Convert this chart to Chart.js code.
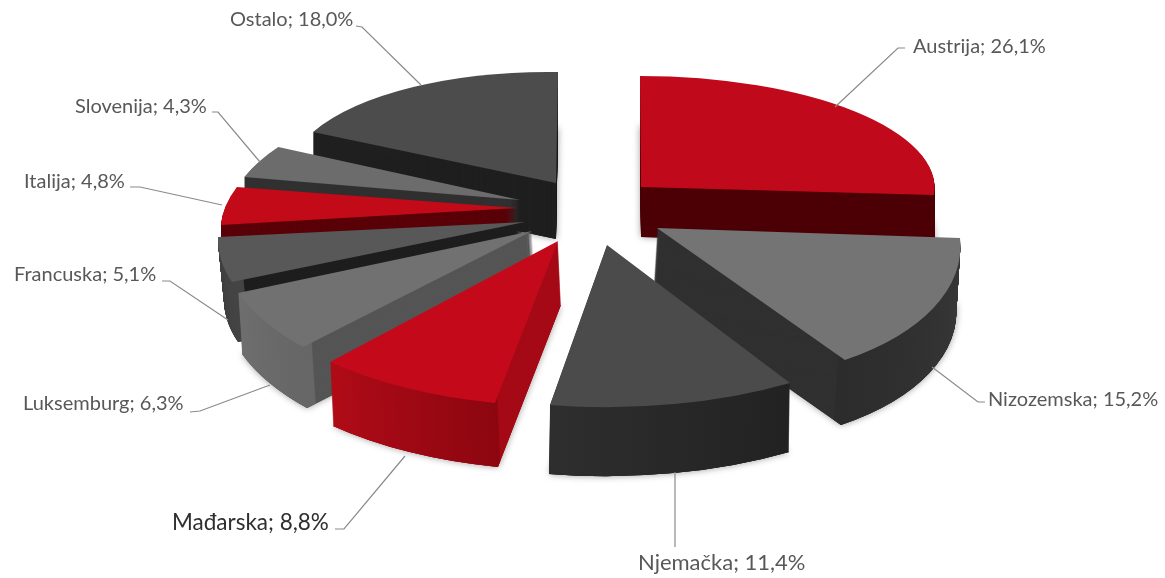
<!DOCTYPE html>
<html lang="hr">
<head>
    <meta charset="UTF-8">
    <title>Izvoz po zemljama</title>
    <script src="https://cdn.jsdelivr.net/npm/chart.js"></script>
    <style>
        html, body { margin: 0; padding: 0; background: #ffffff; }
        canvas { display: block; }
    </style>
</head>
<body>
    <canvas id="pie" width="1165" height="578"></canvas>

    <script>
        const categories = ['Austrija', 'Nizozemska', 'Njemačka', 'Mađarska', 'Luksemburg', 'Francuska', 'Italija', 'Slovenija', 'Ostalo'];
        const shares = [26.1, 15.2, 11.4, 8.8, 6.3, 5.1, 4.8, 4.3, 18.0];

        // colours per slice: top face, cut side, outer wall (end angle and start angle)
        const topColors = ['#c00a1b', '#747474', '#4b4b4b', '#c40a1a', '#717171', '#585858', '#c20a18', '#6c6c6c', '#4c4c4c'];
        const sideColors = ['#4c0006', '#303030', '#262626', '#a50a16', '#555555', '#1e1e1e', '#5a0008', '#303030', '#1f1f1f'];
        const wallFrom = ['#4c0006', '#2c2c2c', '#2e2e2e', '#b00b17', '#6e6e6e', '#3b3b3b', '#5a0008', '#303030', '#1f1f1f'];
        const wallTo = ['#4c0006', '#383838', '#222222', '#8c0610', '#666666', '#444444', '#5a0008', '#303030', '#1f1f1f'];

        // fake 3D view of each slice: apex on the page, 2x2 squash of the unit circle, wall height and lean
        const apexX = [641, 657, 607, 558, 532, 525, 517, 520, 556];
        const apexY = [187, 228, 245, 241, 231, 222, 208, 200, 183];
        const views = [
            [293.6, 0.3, 1, 111],
            [301.2, -0.7, 36.7, 154.9],
            [348.9, -1.1, 1.9, 162.2],
            [337.8, 4.3, -6.1, 165.1],
            [312.2, 10.9, -30, 164.2],
            [303.6, 4.2, -45.6, 146],
            [292.3, -0.4, -47.6, 126.6],
            [286.9, 3.2, -42, 117.6],
            [269.5, 4.1, -2, 111]
        ];
        const depths = [50, 65, 69, 64, 61, 60, 50, 50, 56];
        const leans = [0, -4, -1, 3, 4, 6, 0, 0, 0];
        const hasShadow = [true, true, true, true, true, false, false, false, true];
        const paintOrder = [0, 8, 7, 6, 5, 4, 1, 2, 3];

        // label text position (left, middle), size and leader line
        const labelX = [913, 988, 638, 172, 23, 14, 24, 75, 230];
        const labelY = [47, 400, 563, 523, 404, 275, 182, 107, 20];
        const labelSizes = [20, 20, 22, 22.5, 20, 20, 20, 20, 20];
        const leaders = [
            [[905, 48], [898, 48], [835, 107]],
            [[985, 402], [978, 402], [932, 367]],
            [[675, 547], [675, 472]],
            [[335, 529], [344, 529], [405, 456]],
            [[190, 412], [200, 411], [270, 385]],
            [[162, 281], [170, 281], [228, 320]],
            [[130, 187], [140, 187], [222, 205]],
            [[212, 112], [218, 112], [260, 162]],
            [[356, 26], [362, 27], [421, 85]]
        ];

        function drawLayer(ctx, arc, i, d, color, inner) {
            const m = views[i];
            const R = arc.outerRadius;
            const saved = arc.options;
            const savedInner = arc.innerRadius;
            arc.options = Object.assign({}, saved, { backgroundColor: color });
            arc.innerRadius = inner;
            ctx.save();
            ctx.translate(apexX[i] + leans[i] * d / depths[i], apexY[i] + d);
            ctx.transform(m[0] / R, m[1] / R, m[2] / R, m[3] / R, 0, 0);
            ctx.translate(-arc.x, -arc.y);
            arc.draw(ctx);
            ctx.restore();
            arc.options = saved;
            arc.innerRadius = savedInner;
        }

        const slices3d = {
            id: 'slices3d',
            beforeDatasetsDraw(chart) {
                const ctx = chart.ctx;
                const arcs = chart.getDatasetMeta(0).data;
                paintOrder.forEach(i => {
                    const arc = arcs[i];
                    const R = arc.outerRadius;
                    // gradient runs between the two arc ends, in the arc's own space
                    const grad = ctx.createLinearGradient(
                        arc.x + Math.cos(arc.endAngle) * R, arc.y + Math.sin(arc.endAngle) * R,
                        arc.x + Math.cos(arc.startAngle) * R, arc.y + Math.sin(arc.startAngle) * R);
                    grad.addColorStop(0, wallFrom[i]);
                    grad.addColorStop(1, wallTo[i]);

                    if (hasShadow[i]) {
                        ctx.save();
                        ctx.shadowColor = 'rgba(0,0,0,0.4)';
                        ctx.shadowBlur = 7;
                        drawLayer(ctx, arc, i, depths[i], sideColors[i], 0);
                        ctx.restore();
                    }
                    for (let d = depths[i]; d >= 1; d--) {
                        drawLayer(ctx, arc, i, d, sideColors[i], 0);
                    }
                    for (let d = depths[i]; d >= 1; d--) {
                        drawLayer(ctx, arc, i, d, grad, R * 0.96);
                    }
                    drawLayer(ctx, arc, i, 0, topColors[i], 0);
                });
                return false;
            }
        };

        const sliceLabels = {
            id: 'sliceLabels',
            afterDraw(chart) {
                const ctx = chart.ctx;
                ctx.save();
                ctx.strokeStyle = '#8a8a8a';
                ctx.lineWidth = 1.2;
                leaders.forEach(pts => {
                    ctx.beginPath();
                    pts.forEach((p, k) => k ? ctx.lineTo(p[0], p[1]) : ctx.moveTo(p[0], p[1]));
                    ctx.stroke();
                });
                ctx.textBaseline = 'middle';
                categories.forEach((name, i) => {
                    ctx.font = labelSizes[i] + 'px Lato';
                    ctx.fillStyle = name === 'Mađarska' ? '#2e2e2e' : '#585858';
                    const text = name + '; ' + shares[i].toFixed(1).replace('.', ',') + '%';
                    ctx.fillText(text, labelX[i], labelY[i]);
                });
                ctx.restore();
            }
        };

        new Chart(document.getElementById('pie').getContext('2d'), {
            type: 'pie',
            data: {
                labels: categories,
                datasets: [{ data: shares, backgroundColor: topColors, borderWidth: 0 }]
            },
            options: {
                responsive: false,
                animation: false,
                plugins: { legend: { display: false }, tooltip: { enabled: false } }
            },
            plugins: [slices3d, sliceLabels]
        });
    </script>
</body>
</html>
